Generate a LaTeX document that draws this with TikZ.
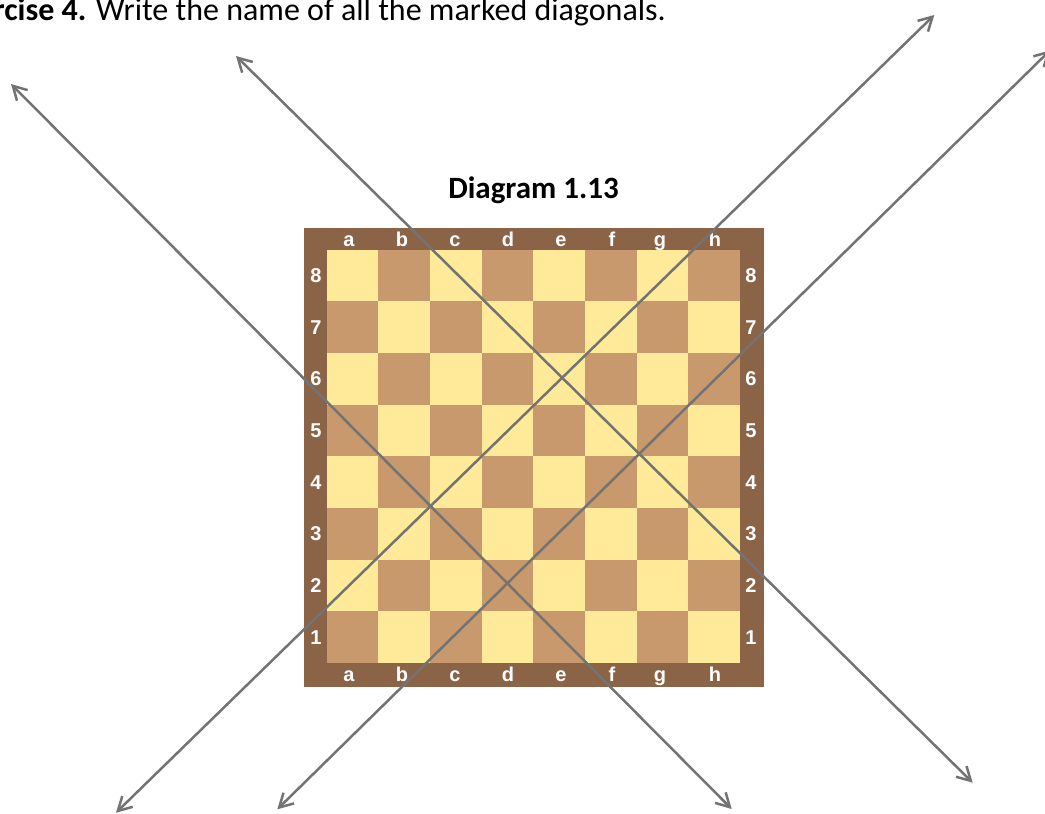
\documentclass[tikz,border=0pt]{standalone}
\usepackage{fontspec}
\setmainfont{Carlito}
\newfontfamily\labelfont{Liberation Sans}
\usetikzlibrary{arrows.meta}
\definecolor{frameBrown}{RGB}{139,99,70}
\definecolor{lightSq}{RGB}{254,234,152}
\definecolor{darkSq}{RGB}{200,153,108}
\definecolor{lineGray}{RGB}{115,115,115}
\tikzset{
  lbl/.style={text=white, font=\labelfont\bfseries\fontsize{20}{24}\selectfont, inner sep=0pt},
  diag/.style={draw=lineGray, line width=2.5pt,
    {Straight Barb[length=13.5pt,width=15pt]}-{Straight Barb[length=13.5pt,width=15pt]}},
}
\begin{document}
\begin{tikzpicture}[x=1pt,y=-1pt]
\useasboundingbox (0,0) rectangle (1045,814);
% frame
\fill[frameBrown] (304,228.3) rectangle (764,687.3);
% squares
\foreach \i in {0,...,7}{
  \foreach \j in {0,...,7}{
    \pgfmathtruncatemacro\s{mod(\i+\j,2)}
    \ifnum\s=0 \def\sqc{lightSq}\else\def\sqc{darkSq}\fi
    \fill[\sqc] (326.7+51.67*\i, 249.7+51.67*\j) rectangle ++(51.67,51.67);
  }
}
% file labels
\foreach \f/\x in {a/349,b/402,c/455,d/508,e/561,f/612,g/660,h/715}{
  \node[lbl, anchor=base] (top\f) at (\x,246) {\f};
  \node[lbl, anchor=base] (bot\f) at (\x,681) {\f};
}
% rank labels
\foreach \r in {1,...,8}{
  \pgfmathsetmacro\yy{249.7+51.67*(8-\r)+25.8}
  \node[lbl] (left\r) at (316,\yy) {\r};
  \node[lbl] (right\r) at (751,\yy) {\r};
}
% texts
\node[anchor=base east, inner sep=0pt, font=\fontsize{32}{36}\selectfont] (exercise) at (666,20)
  {\textbf{Exercise 4.} Write the name of all the marked diagonals.};
\node[anchor=base, inner sep=0pt, font=\bfseries\fontsize{31}{36}\selectfont] (title) at (533.5,198)
  {Diagram 1.13};
% diagonals
\coordinate (l1a) at (11,84);
\coordinate (l1b) at (731.7,809);
\coordinate (l2a) at (236,56);
\coordinate (l2b) at (972.7,782.7);
\coordinate (l3a) at (116,812.7);
\coordinate (l3b) at (934.3,15);
\coordinate (l4a) at (277.3,809.3);
\coordinate (l4b) at (1050,50.4);
\draw[diag] (l1a) -- (l1b);
\draw[diag] (l2a) -- (l2b);
\draw[diag] (l3a) -- (l3b);
\draw[diag] (l4a) -- (l4b);
\end{tikzpicture}
\end{document}
